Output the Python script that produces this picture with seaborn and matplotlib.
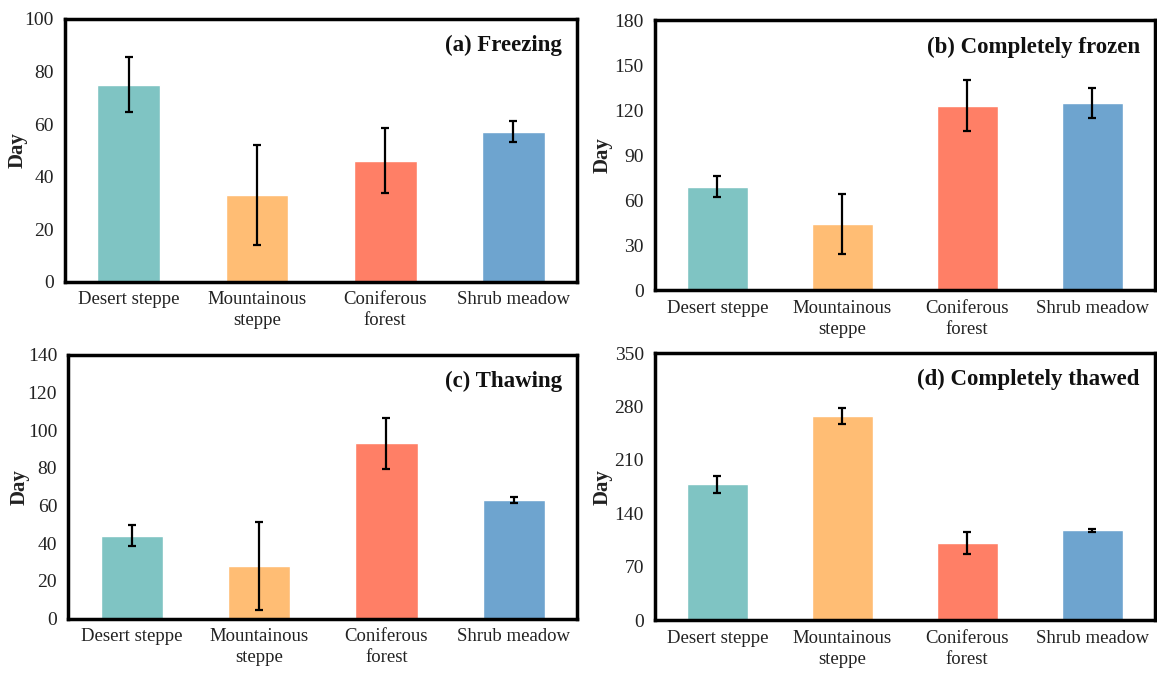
import matplotlib
matplotlib.use("Agg")
import matplotlib.pyplot as plt
import seaborn as sns
import pandas as pd
import numpy as np

sns.set_style("white")
plt.rcParams['font.family'] = ['Liberation Serif', 'DejaVu Serif']

categories = ['Desert steppe', 'Mountainous\nsteppe', 'Coniferous\nforest', 'Shrub meadow']
colors = ['#7FC4C3', '#FFBD74', '#FF7F66', '#6EA4CF']

titles = ['(a) Freezing', '(b) Completely frozen', '(c) Thawing', '(d) Completely thawed']

freezing = [75, 33, 46, 57]
freezing_err = [10.5, 19, 12.3, 4]
frozen = [69, 44, 123, 125]
frozen_err = [7, 20, 17, 10]
thawing = [44, 28, 93, 63]
thawing_err = [5.5, 23.5, 13.5, 1.5]
thawed = [178, 268, 101, 118]
thawed_err = [11, 10.5, 14, 2]

ymax = [100, 180, 140, 350]
ystep = [20, 30, 20, 70]

series = [(freezing, freezing_err), (frozen, frozen_err), (thawing, thawing_err), (thawed, thawed_err)]

# axes boxes [left, bottom, width, height] in figure fraction
boxes = [
    [0.056, 0.582, 0.443, 0.390],
    [0.566, 0.569, 0.432, 0.401],
    [0.059, 0.082, 0.440, 0.392],
    [0.566, 0.080, 0.432, 0.396],
]
label_x = [-0.072, -0.084, -0.075, -0.084]

fig = plt.figure(figsize=(11.57, 6.74), dpi=100)

for i, ((vals, errs), box) in enumerate(zip(series, boxes)):
    ax = fig.add_axes(box)
    df = pd.DataFrame({'cat': categories, 'val': vals})
    sns.barplot(data=df, x='cat', y='val', hue='cat', palette=colors,
                width=0.49, legend=False, ax=ax, saturation=1)
    ax.errorbar(np.arange(len(vals)), vals, yerr=errs, fmt='none',
                ecolor='black', elinewidth=1.6, capsize=3, capthick=1.6, zorder=5)
    ax.set_xlim(-0.5, 3.5)
    ax.set_ylim(0, ymax[i])
    ax.set_yticks(np.arange(0, ymax[i] + 1, ystep[i]))
    ax.set_xlabel('')
    ax.set_ylabel('Day', fontsize=15, fontweight='bold', color='#222222')
    ax.yaxis.set_label_coords(label_x[i], 0.5)
    ax.set_xticks(range(4))
    ax.set_xticklabels(categories, fontsize=13.5, linespacing=1.3, color='#222222')
    ax.set_xticks([-0.5, 0.5, 1.5, 2.5, 3.5], minor=True)
    ax.tick_params(axis='x', which='major', length=0, pad=7)
    ax.tick_params(axis='x', which='minor', length=5, width=2, direction='out', color='black')
    ax.tick_params(axis='y', length=5, width=2, direction='out', color='black',
                   labelsize=14, pad=3, labelcolor='#222222')
    for sp in ax.spines.values():
        sp.set_visible(True)
        sp.set_color('black')
        sp.set_linewidth(2.5)
    ax.text(0.97, 0.9, titles[i], transform=ax.transAxes, ha='right', va='center',
            fontsize=16.5, fontweight='bold', color='#111111')

fig.savefig('out.png', dpi=100)
